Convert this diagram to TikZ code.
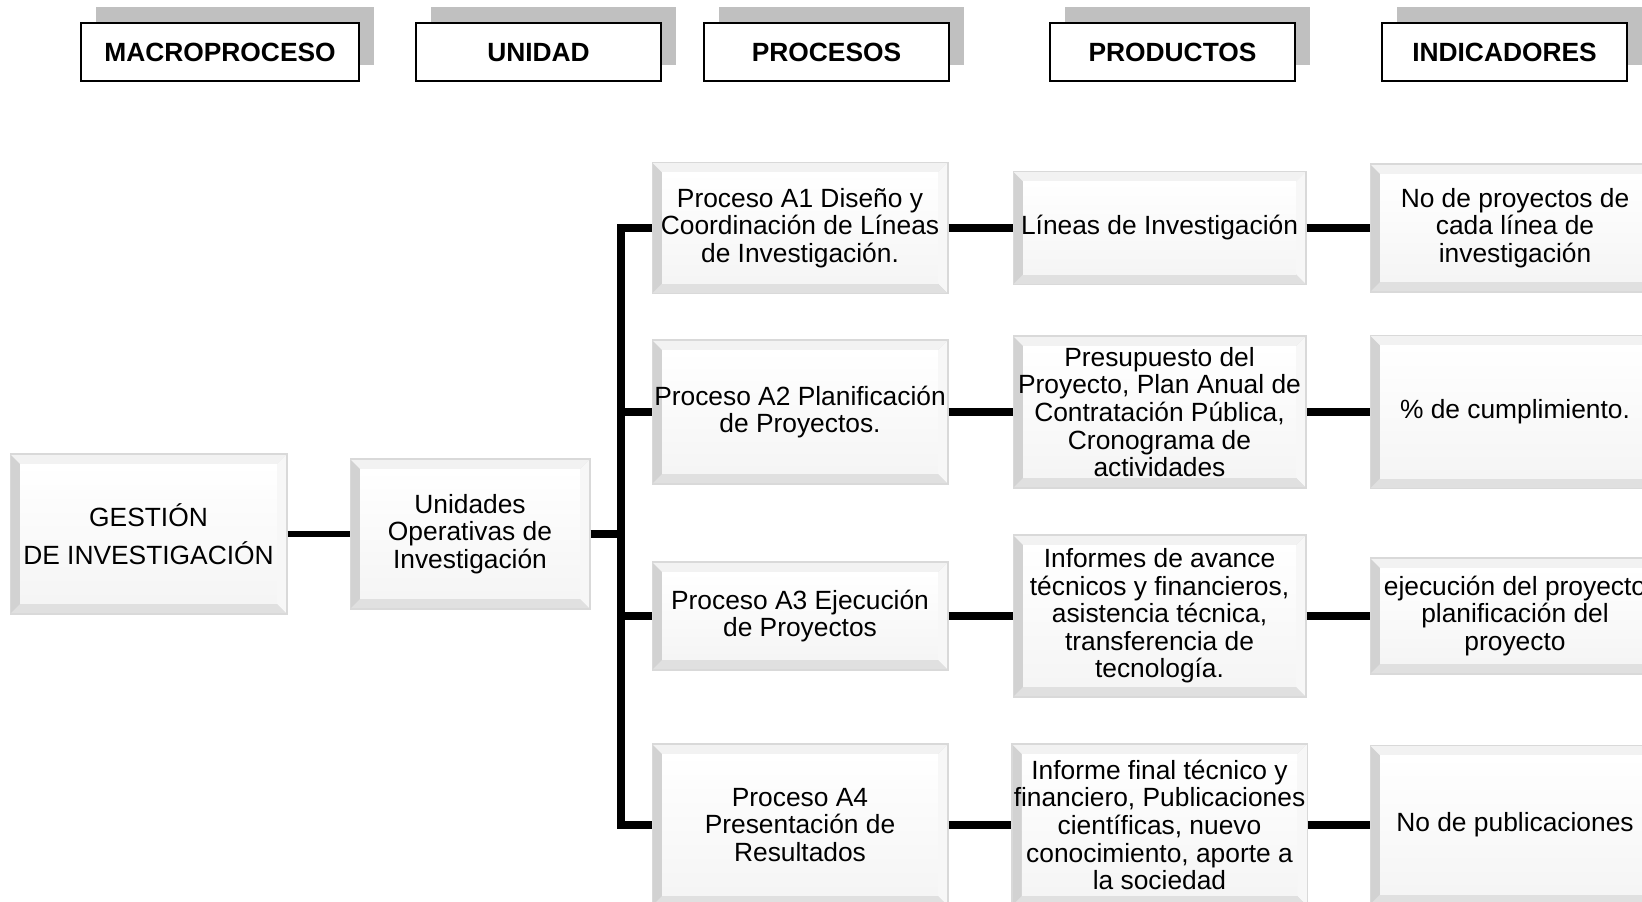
\documentclass[tikz,border=0pt]{standalone}
\usepackage{fontspec}
\setmainfont{Liberation Sans}
\usepackage{tikz}
\usetikzlibrary{shadows, calc}
\definecolor{shadowgray}{HTML}{C0C0C0}
\definecolor{bevelside}{HTML}{D2D2D2}

% bevelled face of the boxes
\newcommand{\bevelfaces}{%
  \coordinate (bl) at (path picture bounding box.south west);
  \coordinate (tr) at (path picture bounding box.north east);
  \coordinate (ibl) at ([shift={(0.2cm,0.2cm)}]bl);
  \coordinate (itr) at ([shift={(-0.2cm,-0.2cm)}]tr);
  \fill[black!5] (bl |- tr) -- (tr) -- (itr) -- (ibl |- itr) -- cycle;
  \fill[black!3] (tr) -- (tr |- bl) -- (itr |- ibl) -- (itr) -- cycle;
  \fill[black!12] (bl) -- (tr |- bl) -- (itr |- ibl) -- (ibl) -- cycle;
  \shade[top color=white, bottom color=black!4] (ibl) rectangle (itr);
}

\begin{document}
\begin{tikzpicture}[x=0.02cm, y=-0.02cm,
  every node/.style={font=\fontsize{15}{15.7}\selectfont},
  header/.style={draw, line width=0.8pt, fill=white, minimum height=1.16cm,
    text depth=0pt, font=\fontsize{15}{18}\selectfont\bfseries,
    drop shadow={shadow xshift=0.3cm, shadow yshift=0.32cm, fill=shadowgray, opacity=1}},
  bevelbox/.style={draw=black!15, line width=0.6pt, fill=bevelside, align=center,
    inner sep=1pt, path picture={\bevelfaces}},
  link/.style={line width=4pt}]
  \useasboundingbox (0,0) rectangle (1642,902);
  \clip (0,0) rectangle (1642,902);

  % column headers
  \foreach \nm/\cx/\w/\txt in {mac/220/5.56/MACROPROCESO, uni/538.5/4.9/UNIDAD,
      pro/826.5/4.9/PROCESOS, prd/1172.5/4.9/PRODUCTOS, ind/1504.5/4.9/INDICADORES}
    \node[header, minimum width=\w cm] (h\nm) at (\cx,52) {\txt};

  % macroproceso and unidad
  \node[bevelbox, minimum width=5.54cm, minimum height=3.2cm] (gdi) at (148.5,534)
    {GESTIÓN\\[6pt] DE INVESTIGACIÓN};
  \node[bevelbox, minimum width=4.8cm, minimum height=3.0cm] (uoi) at (470,534)
    {Unidades\\ Operativas de\\ Investigación};

  % procesos
  \node[bevelbox, minimum width=5.92cm, minimum height=2.62cm] (a1) at (800,228)
    {Proceso A1 Diseño y\\ Coordinación de Líneas\\ de Investigación.};
  \node[bevelbox, minimum width=5.92cm, minimum height=2.88cm] (a2) at (800,412)
    {Proceso A2 Planificación\\ de Proyectos.};
  \node[bevelbox, minimum width=5.92cm, minimum height=2.16cm] (a3) at (800,616)
    {Proceso A3 Ejecución\\ de Proyectos};
  \node[bevelbox, minimum width=5.92cm, minimum height=3.24cm] (a4) at (800,825)
    {Proceso A4\\ Presentación de\\ Resultados};

  % productos
  \node[bevelbox, minimum width=5.86cm, minimum height=2.26cm] (p1) at (1159.5,228)
    {Líneas de Investigación};
  \node[bevelbox, minimum width=5.86cm, minimum height=3.04cm] (p2) at (1159.5,412)
    {Presupuesto del\\ Proyecto, Plan Anual de\\ Contratación Pública,\\ Cronograma de\\ actividades};
  \node[bevelbox, minimum width=5.86cm, minimum height=3.24cm] (p3) at (1159.5,616)
    {Informes de avance\\ técnicos y financieros,\\ asistencia técnica,\\ transferencia de\\ tecnología.};
  \node[bevelbox, minimum width=5.86cm, minimum height=3.24cm] (p4) at (1159.5,825)
    {Informe final técnico y\\ financiero, Publicaciones\\ científicas, nuevo\\ conocimiento, aporte a\\ la sociedad};

  % indicadores
  \node[bevelbox, minimum width=5.8cm, minimum height=2.56cm] (i1) at (1515,228)
    {No de proyectos de\\ cada línea de\\ investigación};
  \node[bevelbox, minimum width=5.8cm, minimum height=3.06cm] (i2) at (1515,412)
    {\% de cumplimiento.};
  \node[bevelbox, minimum width=5.8cm, minimum height=2.32cm] (i3) at (1515,616)
    {ejecución del proyecto\\ planificación del\\ proyecto};
  \node[bevelbox, minimum width=5.8cm, minimum height=3.18cm] (i4) at (1515,825)
    {No de publicaciones};

  % connectors
  \coordinate (bus) at (621,534);
  \draw[link, line width=3.4pt] (gdi.east) -- (uoi.west);
  \draw[link] (uoi.east) -- (bus);
  \draw[link] (a1.west) -- (bus |- a1.west) -- (bus |- a4.west) -- (a4.west);
  \draw[link] (bus |- a2.west) -- (a2.west);
  \draw[link] (bus |- a3.west) -- (a3.west);
  \foreach \r in {1,...,4}
  {
    \draw[link] (a\r.east) -- (p\r.west);
    \draw[link] (p\r.east) -- (i\r.west);
  }
\end{tikzpicture}
\end{document}
